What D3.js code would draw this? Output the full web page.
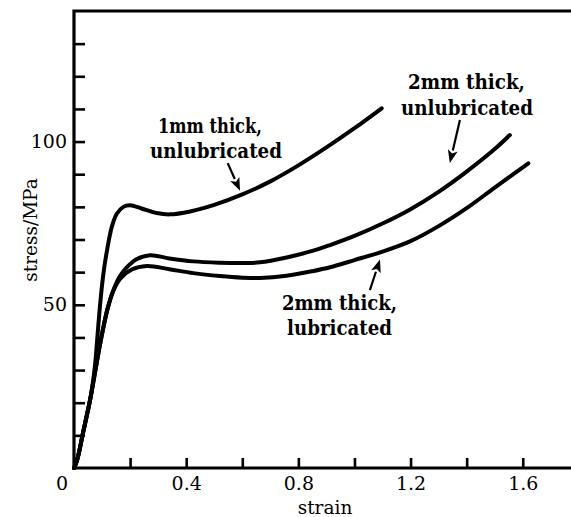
<!DOCTYPE html>
<html>
<head>
<meta charset="utf-8">
<script src="https://cdn.jsdelivr.net/npm/d3@7"></script>
<style>
  html, body { margin: 0; padding: 0; background: #fff; }
  svg { display: block; }
</style>
</head>
<body>
<svg id="chart" width="571" height="517"></svg>
<script>
// ---------- data ----------
const seriesNames = ["1mm thick, unlubricated", "2mm thick, unlubricated", "2mm thick, lubricated"];

const strain1mmUnlub = [0, 0.011, 0.032, 0.057, 0.067, 0.075, 0.081, 0.087, 0.093, 0.100, 0.108, 0.117, 0.134, 0.152, 0.176, 0.200, 0.241, 0.295, 0.342, 0.414, 0.50, 0.60, 0.70, 0.80, 0.90, 1.00, 1.097];
const stress1mmUnlub = [0, 2.4, 10.7, 20.7, 26.0, 31.5, 37.5, 44.0, 50.0, 56.0, 61.5, 66.3, 73.6, 77.8, 80.0, 80.5, 79.5, 78.1, 77.7, 78.6, 80.6, 83.8, 87.8, 92.7, 98.2, 104.1, 110.2];

const strain2mmUnlub = [0, 0.011, 0.032, 0.057, 0.075, 0.090, 0.105, 0.120, 0.140, 0.164, 0.193, 0.221, 0.271, 0.340, 0.425, 0.52, 0.60, 0.663, 0.758, 0.85, 0.913, 1.0, 1.1, 1.2, 1.3, 1.4, 1.5, 1.554];
const stress2mmUnlub = [0, 2.4, 10.7, 20.7, 29.3, 36.6, 43.2, 48.9, 54.4, 58.8, 61.9, 63.9, 65.2, 64.2, 63.3, 62.9, 62.8, 63.0, 64.5, 66.5, 68.3, 71.1, 74.9, 79.3, 84.6, 90.8, 97.7, 102.0];

const strain2mmLub = [0, 0.011, 0.032, 0.057, 0.075, 0.090, 0.105, 0.120, 0.140, 0.164, 0.206, 0.259, 0.340, 0.425, 0.52, 0.60, 0.663, 0.758, 0.85, 0.913, 1.0, 1.1, 1.2, 1.3, 1.4, 1.5, 1.62];
const stress2mmLub = [0, 2.4, 10.7, 20.7, 29.3, 36.6, 43.2, 48.9, 54.2, 57.9, 60.8, 61.9, 60.9, 59.7, 58.8, 58.3, 58.2, 58.9, 60.3, 61.5, 63.7, 66.3, 69.5, 74.1, 79.6, 85.9, 93.3];

const yTicks = [10, 20, 30, 40, 50, 60, 70, 80, 90, 100, 110, 120, 130];
const yTickLabels = [50, 100];
const xTicks = [0.2, 0.4, 0.6, 0.8, 1.0, 1.2, 1.4, 1.6];
const xTickLabels = ["0.4", "0.8", "1.2", "1.6"];
const originLabel = "0";
const xTitle = "strain";
const yTitle = "stress/MPa";

// annotation arrows: [tailStrain, tailStress, tipStrain, tipStress]
const arrow1 = [0.548, 93.4, 0.592, 84.9];
const arrow2 = [1.376, 106.6, 1.340, 93.4];
const arrow3 = [1.055, 54.5, 1.091, 63.9];

// ---------- drawing ----------
const W = 571, H = 517;
const mLeft = 74, mTop = 11, mRight = 571, mBottom = 468;

const x = d3.scaleLinear().domain([0, 1.772]).range([mLeft, mRight]);
const y = d3.scaleLinear().domain([0, 140]).range([mBottom, mTop]);

const svg = d3.select("#chart");
svg.append("rect").attr("width", W).attr("height", H).attr("fill", "#fff");

const serif = "'DejaVu Serif', 'Liberation Serif', serif";

// y axis ticks (inward)
const yAxis = svg.append("g")
  .attr("transform", `translate(${mLeft},0)`)
  .call(d3.axisLeft(y).tickValues(yTicks).tickSize(-11).tickPadding(7)
    .tickFormat(d => yTickLabels.includes(d) ? String(d) : ""));
yAxis.select(".domain").remove();
yAxis.selectAll(".tick line").attr("stroke", "#000").attr("stroke-width", 2.6);
yAxis.selectAll(".tick text").attr("font-family", serif).attr("font-size", 19).attr("fill", "#000");

// x axis ticks (inward)
const xAxis = svg.append("g")
  .attr("transform", `translate(0,${y(0)})`)
  .call(d3.axisBottom(x).tickValues(xTicks).tickSize(-10).tickPadding(9)
    .tickFormat(d => { const s = d.toFixed(1); return xTickLabels.includes(s) ? s : ""; }));
xAxis.select(".domain").remove();
xAxis.selectAll(".tick line").attr("stroke", "#000").attr("stroke-width", 2.6);
xAxis.selectAll(".tick text").attr("font-family", serif).attr("font-size", 19).attr("fill", "#000");

// frame: left, top, bottom
const frame = d3.path();
frame.moveTo(mRight, y(0));
frame.lineTo(x(0), y(0));
frame.lineTo(x(0), mTop);
frame.lineTo(mRight, mTop);
svg.append("path").attr("d", frame.toString())
  .attr("fill", "none").attr("stroke", "#000").attr("stroke-width", 3.2);

// origin label
svg.append("text").attr("x", x(0) - 12).attr("y", y(0) + 22)
  .attr("text-anchor", "middle").attr("font-family", serif).attr("font-size", 19)
  .text(originLabel);

// axis titles
svg.append("text").attr("x", 325).attr("y", 514)
  .attr("text-anchor", "middle").attr("font-family", serif).attr("font-size", 18.5)
  .text(xTitle);
svg.append("text").attr("transform", "translate(37,230) rotate(-90)")
  .attr("text-anchor", "middle").attr("font-family", serif).attr("font-size", 18.5)
  .text(yTitle);

// curves
const line = d3.line().x(d => x(d[0])).y(d => y(d[1])).curve(d3.curveCatmullRom.alpha(0.5));
const series = [
  d3.zip(strain1mmUnlub, stress1mmUnlub),
  d3.zip(strain2mmUnlub, stress2mmUnlub),
  d3.zip(strain2mmLub, stress2mmLub)
];
svg.append("g").selectAll("path").data(series).join("path")
  .attr("d", line)
  .attr("fill", "none").attr("stroke", "#000").attr("stroke-width", 4)
  .attr("stroke-linecap", "round").attr("stroke-linejoin", "round");

// arrows
function drawArrow(a) {
  const x1 = x(a[0]), y1 = y(a[1]), x2 = x(a[2]), y2 = y(a[3]);
  const ang = Math.atan2(y2 - y1, x2 - x1);
  const hl = 13, hw = 5;
  const bx = x2 - hl * Math.cos(ang), by = y2 - hl * Math.sin(ang);
  svg.append("line").attr("x1", x1).attr("y1", y1).attr("x2", bx).attr("y2", by)
    .attr("stroke", "#000").attr("stroke-width", 2.2);
  const px = -Math.sin(ang), py = Math.cos(ang);
  svg.append("path")
    .attr("d", `M${x2},${y2}L${bx + hw * px},${by + hw * py}L${bx + 3 * Math.cos(ang)},${by + 3 * Math.sin(ang)}L${bx - hw * px},${by - hw * py}Z`)
    .attr("fill", "#000");
}
[arrow1, arrow2, arrow3].forEach(drawArrow);

// annotation labels
const labelLines = [
  { t: "1mm thick,", x: 158, y: 133, w: 104 },
  { t: "unlubricated", x: 150, y: 158, w: 132 },
  { t: "2mm thick,", x: 408, y: 89, w: 117 },
  { t: "unlubricated", x: 401, y: 115, w: 132 },
  { t: "2mm thick,", x: 282, y: 310, w: 115 },
  { t: "lubricated", x: 287, y: 335, w: 105 }
];
svg.append("g").selectAll("text").data(labelLines).join("text")
  .attr("x", d => d.x).attr("y", d => d.y)
  .attr("textLength", d => d.w).attr("lengthAdjust", "spacingAndGlyphs")
  .attr("font-family", serif).attr("font-weight", "bold").attr("font-size", 21)
  .attr("fill", "#000")
  .text(d => d.t);
</script>
</body>
</html>
